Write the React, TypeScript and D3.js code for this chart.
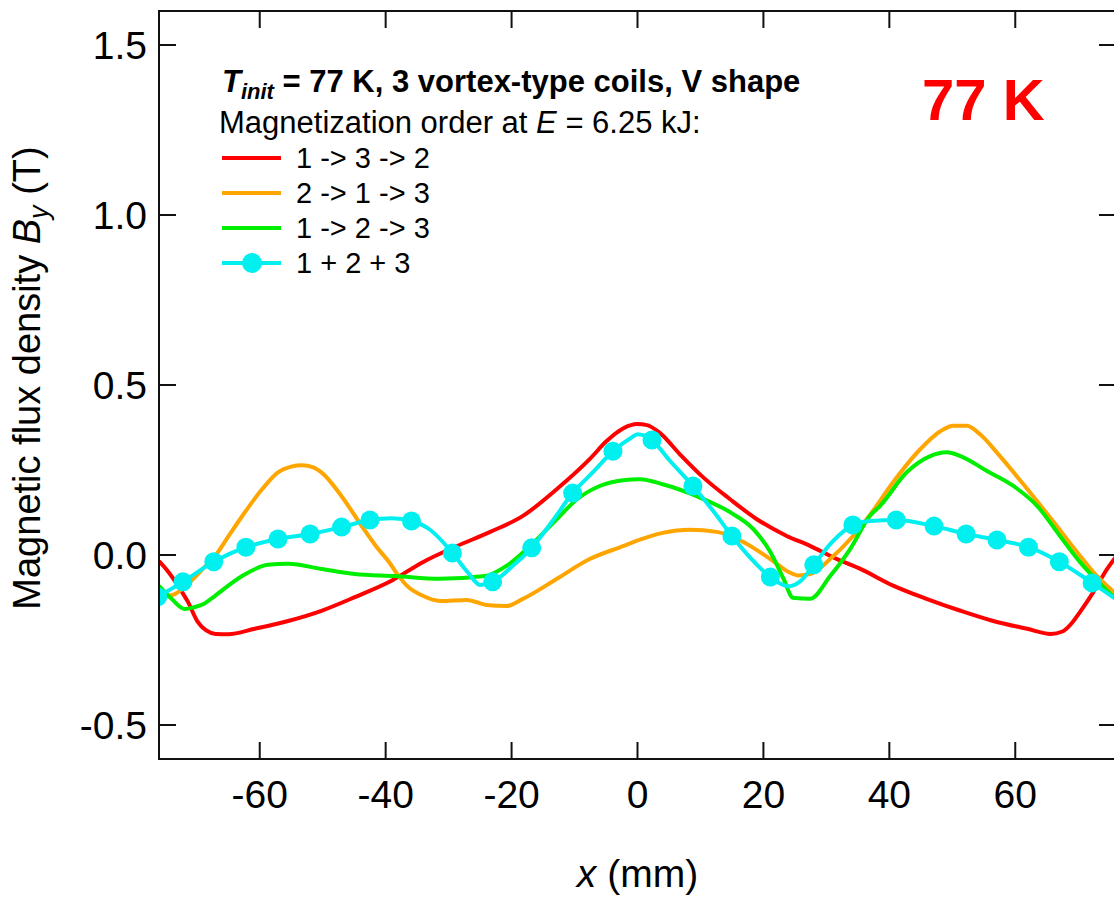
import React from 'react';
import * as d3 from 'd3';

// x (mm), By (T)
const redSeries: [number, number][] = [
  [-76, -0.018], [-74.5, -0.05], [-73, -0.09], [-71.4, -0.138], [-69.9, -0.195], [-68.5, -0.222],
  [-67, -0.232], [-65, -0.233], [-60.8, -0.217], [-55.5, -0.194], [-50.2, -0.164], [-44.9, -0.124],
  [-39, -0.075], [-34.1, -0.021], [-28.7, 0.026], [-23.4, 0.068], [-18.2, 0.115], [-12.8, 0.194],
  [-7.6, 0.282], [-4.9, 0.335], [-2.3, 0.372], [0, 0.385], [1.5, 0.382], [3.5, 0.36], [6.7, 0.297],
  [10.4, 0.229], [14.7, 0.164], [18.9, 0.106], [23.7, 0.056], [27.4, 0.027], [31.7, -0.012],
  [35.4, -0.041], [40.6, -0.09], [45.9, -0.129], [51.3, -0.164], [56.5, -0.194], [61.9, -0.217],
  [65.6, -0.232], [67.5, -0.225], [69, -0.2], [70.3, -0.167], [72.4, -0.109], [74.6, -0.041], [76, -0.005],
];

const orangeSeries: [number, number][] = [
  [-76, -0.125], [-73.5, -0.115], [-71.4, -0.085], [-69, -0.04], [-67.1, -0.003], [-64.8, 0.06],
  [-62.8, 0.114], [-59.6, 0.194], [-57.1, 0.243], [-55, 0.26], [-53.3, 0.264], [-51.5, 0.258],
  [-50.2, 0.243], [-47, 0.173], [-43.8, 0.085], [-41.5, 0.025], [-39.5, -0.02], [-38, -0.06],
  [-36.6, -0.091], [-34.1, -0.12], [-31.4, -0.135], [-27.1, -0.132], [-24, -0.147], [-20.8, -0.15],
  [-18.2, -0.129], [-12.8, -0.07], [-7.6, -0.012], [-2.3, 0.026], [0.4, 0.045], [4, 0.065],
  [8.3, 0.074], [12.6, 0.068], [16.8, 0.038], [21.1, -0.012], [24, -0.05], [25.5, -0.06],
  [27.4, -0.056], [30.6, -0.012], [33.8, 0.047], [37, 0.12], [40.6, 0.214], [44.9, 0.311],
  [48.1, 0.364], [50.2, 0.38], [52.3, 0.38], [54.4, 0.355], [57.6, 0.29], [61.9, 0.194],
  [66.1, 0.097], [69.8, 0.009], [72.4, -0.05], [76, -0.115],
];

const greenSeries: [number, number][] = [
  [-76, -0.091], [-74, -0.129], [-71.9, -0.159], [-70.3, -0.153], [-69, -0.145], [-67.1, -0.12],
  [-62.8, -0.062], [-58.7, -0.029], [-55.5, -0.026], [-50.2, -0.041], [-44.9, -0.056], [-38.5, -0.062],
  [-31.4, -0.07], [-24.2, -0.062], [-20.8, -0.032], [-17.1, 0.026], [-12.8, 0.106], [-9.6, 0.164],
  [-6, 0.203], [-2.3, 0.22], [0.4, 0.223], [4, 0.208], [9.4, 0.173], [14.7, 0.126], [18.4, 0.076],
  [21.1, 0.009], [23.2, -0.07], [24.7, -0.126], [27.4, -0.129], [30.6, -0.062], [33.8, 0.018],
  [36.9, 0.115], [38.5, 0.144], [42.8, 0.244], [46.5, 0.291], [49.1, 0.302], [51.3, 0.291],
  [55.5, 0.247], [59.7, 0.203], [63.5, 0.144], [67.1, 0.056], [70.3, -0.021], [73.5, -0.085], [76, -0.13],
];

const cyanSeries: [number, number][] = [
  [-76.2, -0.123], [-72.2, -0.079], [-67.3, -0.02], [-62.2, 0.023], [-57.1, 0.047], [-52, 0.062],
  [-47, 0.082], [-42.5, 0.103], [-39, 0.108], [-35.9, 0.1], [-33, 0.075], [-29.4, 0.006], [-27, -0.05],
  [-25, -0.088], [-23, -0.079], [-20, -0.035], [-16.8, 0.021], [-13.5, 0.1], [-10.3, 0.182], [-7, 0.245],
  [-3.9, 0.305], [-1, 0.345], [0, 0.355], [2.3, 0.338], [5, 0.28], [8.8, 0.203], [12, 0.13], [15, 0.056],
  [18, -0.01], [21.1, -0.065], [24, -0.092], [26, -0.075], [28, -0.029], [31, 0.04], [34.2, 0.088],
  [37, 0.1], [41.1, 0.103], [47.1, 0.085], [52.2, 0.062], [57.1, 0.044], [62.1, 0.023], [67, -0.02],
  [72.2, -0.082], [76, -0.13],
];

const cyanMarkers: [number, number][] = [
  [-76.2, -0.123], [-72.2, -0.079], [-67.3, -0.02], [-62.2, 0.023], [-57.1, 0.047], [-52, 0.062],
  [-47, 0.082], [-42.5, 0.103], [-35.9, 0.1], [-29.4, 0.006], [-23, -0.079], [-16.8, 0.021],
  [-10.3, 0.182], [-3.9, 0.305], [2.3, 0.338], [8.8, 0.203], [15, 0.056], [21.1, -0.065],
  [28, -0.029], [34.2, 0.088], [41.1, 0.103], [47.1, 0.085], [52.2, 0.062], [57.1, 0.044],
  [62.1, 0.023], [67, -0.02], [72.2, -0.082],
];

const xTicks = [-60, -40, -20, 0, 20, 40, 60];
const yTicks = [-0.5, 0, 0.5, 1.0, 1.5];
const legendLabels = ['1 -> 3 -> 2', '2 -> 1 -> 3', '1 -> 2 -> 3', '1 + 2 + 3'];
const legendColors = ['#ff0000', '#ffa500', '#00ee00', '#00f0f0'];

const W = 1114;
const H = 897;
const left = 159, right = 1116, top = 11, bottom = 759;
const font = 'Liberation Sans, Arial, Helvetica, sans-serif';

export default function App() {
  const x = d3.scaleLinear().domain([-76, 76]).range([left, right]);
  const y = d3.scaleLinear().domain([-0.6, 1.6]).range([bottom, top]);

  const line = d3.line<[number, number]>()
    .x(d => x(d[0]))
    .y(d => y(d[1]))
    .curve(d3.curveMonotoneX);

  const series = [redSeries, orangeSeries, greenSeries, cyanSeries];
  const tickLen = 17;
  const axisColor = '#111';

  return (
    <svg width={W} height={H} style={{ position: 'absolute', left: 0, top: 0, background: '#fff' }} fontFamily={font}>
      <defs>
        <clipPath id="plot">
          <rect x={left} y={top} width={right - left} height={bottom - top} />
        </clipPath>
      </defs>

      <g clipPath="url(#plot)">
        {series.map((s, i) => (
          <path key={i} d={line(s) ?? ''} fill="none" stroke={legendColors[i]} strokeWidth={4} strokeLinejoin="round" />
        ))}
        {cyanMarkers.map((d, i) => (
          <circle key={i} cx={x(d[0])} cy={y(d[1])} r={9.5} fill={legendColors[3]} />
        ))}
      </g>

      {/* frame */}
      <rect x={left} y={top} width={right - left} height={bottom - top} fill="none" stroke={axisColor} strokeWidth={2} />

      {xTicks.map(t => (
        <g key={t}>
          <line x1={x(t)} x2={x(t)} y1={bottom} y2={bottom - tickLen} stroke={axisColor} strokeWidth={2} />
          <line x1={x(t)} x2={x(t)} y1={top} y2={top + tickLen} stroke={axisColor} strokeWidth={2} />
          <text x={x(t)} y={808} textAnchor="middle" fontSize={39}>{t}</text>
        </g>
      ))}
      {yTicks.map(t => (
        <g key={t}>
          <line x1={left} x2={left + tickLen} y1={y(t)} y2={y(t)} stroke={axisColor} strokeWidth={2} />
          <line x1={right} x2={right - tickLen} y1={y(t)} y2={y(t)} stroke={axisColor} strokeWidth={2} />
          <text x={147} y={y(t)} dy="0.36em" textAnchor="end" fontSize={39}>{t.toFixed(1)}</text>
        </g>
      ))}

      {/* axis titles */}
      <text x={(left + right) / 2} y={887} textAnchor="middle" fontSize={39}>
        <tspan fontStyle="italic">x</tspan> (mm)
      </text>
      <text transform="translate(40,378) rotate(-90)" textAnchor="middle" fontSize={38}>
        Magnetic flux density <tspan fontStyle="italic">B</tspan>
        <tspan fontStyle="italic" fontSize={27} dy={8}>y</tspan>
        <tspan dy={-8}> (T)</tspan>
      </text>

      {/* legend */}
      <text x={222} y={92} fontSize={31} fontWeight="bold">
        <tspan fontStyle="italic">T</tspan>
        <tspan fontStyle="italic" fontSize={22} dy={7}>init</tspan>
        <tspan dy={-7}> = 77 K, 3 vortex-type coils, V shape</tspan>
      </text>
      <text x={219} y={133} fontSize={31}>
        Magnetization order at <tspan fontStyle="italic">E</tspan> = 6.25 kJ:
      </text>
      {legendLabels.map((lab, i) => {
        const cy = 158 + i * 35;
        return (
          <g key={lab}>
            <line x1={222} x2={281} y1={cy} y2={cy} stroke={legendColors[i]} strokeWidth={4} />
            {i === 3 && <circle cx={252} cy={cy} r={10} fill={legendColors[i]} />}
            <text x={296} y={cy + 10} fontSize={29}>{lab}</text>
          </g>
        );
      })}

      <text x={922} y={120} fontSize={58} fontWeight="bold" fill="#ff0000">77 K</text>
    </svg>
  );
}
